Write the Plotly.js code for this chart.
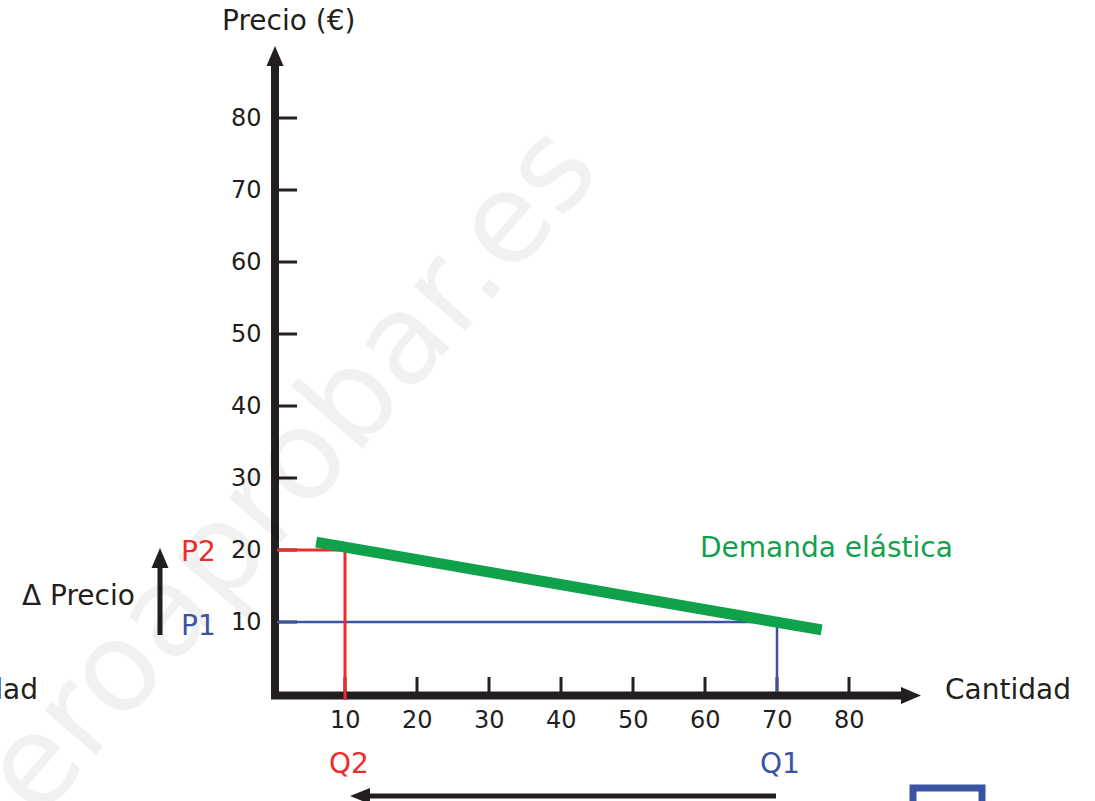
<!DOCTYPE html>
<html>
<head>
<meta charset="utf-8">
<script src="https://cdn.plot.ly/plotly-3.0.1.min.js"></script>
<style>
  html, body { margin: 0; padding: 0; background: #ffffff; }
  #chart { width: 1095px; height: 801px; }
</style>
</head>
<body>
<div id="chart"></div>
<script>
// ---------------- data ----------------
const xTicks = [10, 20, 30, 40, 50, 60, 70, 80];
const yTicks = [10, 20, 30, 40, 50, 60, 70, 80];
const demandQ = [6, 76.2];
const demandP = [21.1, 8.9];
const Q1 = 70, P1 = 10;
const Q2 = 10, P2 = 20;
const axisEndX = 90;   // tip of the quantity axis arrow
const axisEndY = 90;   // tip of the price axis arrow
const yTitle = "Precio (€)";
const xTitle = "Cantidad";
const demandLabel = "Demanda elástica";
const dPriceLabel = "Δ Precio";
const dQtyLabel = "Δ Cantidad";
const watermark = "ceroaprobar.es";

// ---------------- scale / layout constants ----------------
const W = 1095, H = 801;
const K = 7.2;              // pixels per data unit (both axes)
const X0 = 273, Y0 = 694;   // pixel position of data origin
const px = p => p / K;      // pixels -> data units

const BLACK = "#231f20", RED = "#ee2b2b", BLUE = "#3a53a3", GREEN = "#10a24b";
const FONT = "DejaVu Sans, Verdana, sans-serif";
const LBL = 28, TCK = 24;

function head(tx, ty, dir, len, wid) {
  const l = px(len), w = px(wid) / 2;
  if (dir === "up")    return {x: [tx - w, tx + w, tx, tx - w], y: [ty - l, ty - l, ty, ty - l]};
  if (dir === "right") return {x: [tx - l, tx - l, tx, tx - l], y: [ty - w, ty + w, ty, ty - w]};
  if (dir === "left")  return {x: [tx + l, tx + l, tx, tx + l], y: [ty - w, ty + w, ty, ty - w]};
}
function lineTrace(x, y, color, width) {
  return {type: "scatter", mode: "lines", x, y, line: {color, width}, hoverinfo: "skip"};
}
function fillTrace(h, color) {
  return {type: "scatter", mode: "lines", x: h.x, y: h.y, fill: "toself",
          fillcolor: color, line: {color, width: 0}, hoverinfo: "skip"};
}

const traces = [];
const yAxX = px(2), xAxY = px(-1.5);
// axes
traces.push(lineTrace([yAxX, yAxX], [px(-4), axisEndY - px(19)], BLACK, 8));
traces.push(lineTrace([px(-2), axisEndX - px(19)], [xAxY, xAxY], BLACK, 8));
traces.push(fillTrace(head(yAxX, axisEndY, "up", 20, 17), BLACK));
traces.push(fillTrace(head(axisEndX, xAxY, "right", 20, 17), BLACK));
// tick marks
(function () {
  const tx = [], ty = [];
  yTicks.forEach(v => { tx.push(px(6), px(24), null); ty.push(v, v, null); });
  traces.push(lineTrace(tx, ty, BLACK, 3));
  const ux = [], uy = [];
  xTicks.forEach(v => { ux.push(v, v, null); uy.push(px(2), px(17), null); });
  traces.push(lineTrace(ux, uy, BLACK, 3));
})();
// guide lines
traces.push(lineTrace([px(4), Q1, Q1], [P1, P1, px(2)], BLUE, 2.5));
traces.push(lineTrace([px(4), Q2, Q2], [P2, P2, px(-6)], RED, 3));
// demand curve
traces.push(lineTrace(demandQ, demandP, GREEN, 11));
// delta price arrow
const dpx = px(160 - X0);
traces.push(lineTrace([dpx, dpx], [P1 - px(13), P2 + px(2) - px(18)], BLACK, 5));
traces.push(fillTrace(head(dpx, P2 + px(2), "up", 20, 17), BLACK));
// delta quantity arrow
const dqy = px(-(796 - Y0));
traces.push(lineTrace([Q1 - px(1), Q2 + px(5) + px(18)], [dqy, dqy], BLACK, 5));
traces.push(fillTrace(head(Q2 + px(5), dqy, "left", 20, 16), BLACK));

// ---------------- annotations ----------------
const ann = [];
function txt(text, x, y, opts) {
  ann.push(Object.assign({text, x, y, xref: "x", yref: "y", showarrow: false,
    xanchor: "center", yanchor: "middle",
    font: {family: FONT, size: LBL, color: BLACK}}, opts || {}));
}
// watermark first
ann.push({text: watermark, xref: "paper", yref: "paper", x: 265 / W, y: 1 - 495 / H,
  showarrow: false, textangle: -49, xanchor: "center", yanchor: "middle",
  font: {family: FONT, size: 125, color: "rgba(0,0,0,0.055)"}});

yTicks.forEach(v => txt(String(v), 0, v, {xanchor: "right", xshift: -9, font: {family: FONT, size: TCK, color: BLACK}}));
xTicks.forEach(v => txt(String(v), v, 0, {yshift: -26, font: {family: FONT, size: TCK, color: BLACK}}));

txt(yTitle, 0, axisEndY, {xshift: 15, yshift: 26});
txt(xTitle, axisEndX, 0, {xanchor: "left", xshift: 22, yshift: 5});
txt(demandLabel, px(698 - X0), px(Y0 - 547), {xanchor: "left", font: {family: FONT, size: LBL, color: GREEN}});
txt("P2", 0, P2, {xanchor: "right", xshift: -55, yshift: -1, font: {family: FONT, size: LBL, color: RED}});
txt("P1", 0, P1, {xanchor: "right", xshift: -55, yshift: -3, font: {family: FONT, size: LBL, color: BLUE}});
txt("Q2", Q2, 0, {xshift: 4, yshift: -69, font: {family: FONT, size: LBL, color: RED}});
txt("Q1", Q1, 0, {xshift: 3, yshift: -69, font: {family: FONT, size: LBL, color: BLUE}});
txt(dPriceLabel, dpx, (P1 + P2) / 2, {xanchor: "right", xshift: -23, yshift: -9});
txt(dQtyLabel, px(40 - X0), 0, {xanchor: "right", yshift: 5});

const layout = {
  width: W, height: H,
  margin: {l: 0, r: 0, t: 0, b: 0, pad: 0},
  paper_bgcolor: "#ffffff", plot_bgcolor: "#ffffff",
  showlegend: false,
  xaxis: {range: [-X0 / K, (W - X0) / K], visible: false, fixedrange: true},
  yaxis: {range: [-(H - Y0) / K, Y0 / K], visible: false, fixedrange: true},
  annotations: ann,
  shapes: [{type: "rect", xref: "paper", yref: "paper",
    x0: 913 / W, x1: 982 / W, y0: 1 - 788 / H, y1: -0.06,
    line: {color: BLUE, width: 7}, fillcolor: "rgba(0,0,0,0)"}]
};

Plotly.newPlot("chart", traces, layout, {displayModeBar: false, staticPlot: true});
</script>
</body>
</html>
